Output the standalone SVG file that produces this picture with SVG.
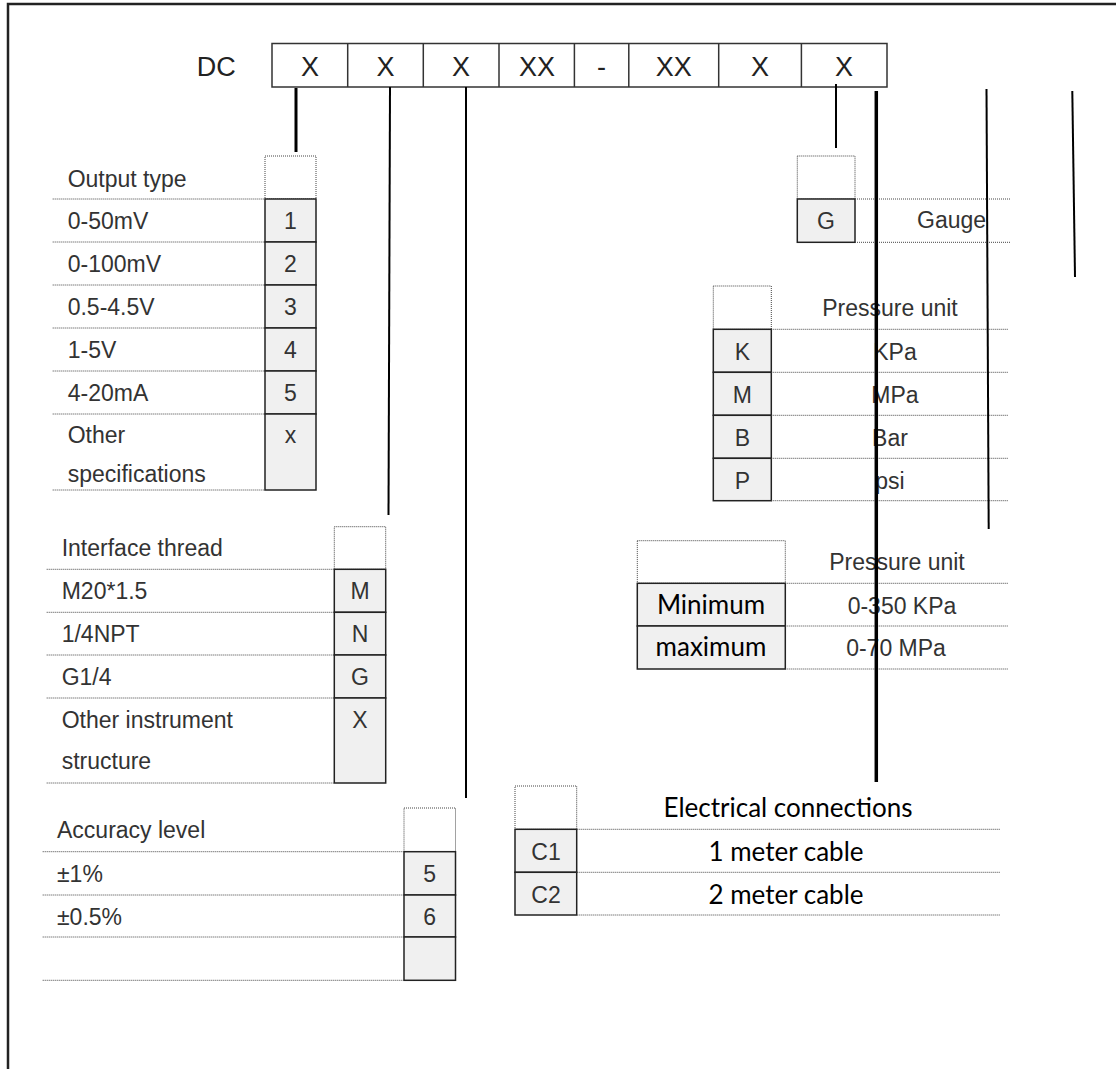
<svg xmlns="http://www.w3.org/2000/svg" width="1116" height="1069" viewBox="0 0 1116 1069">
<style>
.frame{fill:none;stroke:#222;stroke-width:2.5}
.hdr{fill:none;stroke:#333;stroke-width:1.5}
.code{fill:#f0f0f0;stroke:#222;stroke-width:1.5}
.dbox{fill:none;stroke:#444;stroke-width:1;stroke-dasharray:1 1}
.dl{stroke:#444;stroke-width:1;stroke-dasharray:1 1}
.t{font-family:"Liberation Sans",Arial,sans-serif;font-size:23px;fill:#333}
.m{text-anchor:middle}
.h{font-family:"Liberation Sans",Arial,sans-serif;font-size:27px;fill:#222}
.c{font-family:Lato,"Noto Sans",sans-serif;font-size:26px;fill:#000;text-anchor:middle}
.conn{stroke:#000;fill:none}
</style>
<rect width="1116" height="1069" fill="#fff"/>
<path class="frame" d="M8,1069 V4 H1116"/>

<g id="model-code">
<rect class="hdr" x="272" y="43.5" width="615" height="43.5"/>
<path class="hdr" d="M347.7,43.5V87 M423.3,43.5V87 M499,43.5V87 M574.4,43.5V87 M628.8,43.5V87 M718.7,43.5V87 M801.4,43.5V87"/>
<text class="h" x="196.7" y="76">DC</text>
<text class="h m" x="310" y="76">X</text>
<text class="h m" x="385.5" y="76">X</text>
<text class="h m" x="461" y="76">X</text>
<text class="h m" x="537" y="76">XX</text>
<text class="h m" x="601.6" y="76">-</text>
<text class="h m" x="673.8" y="76">XX</text>
<text class="h m" x="760" y="76">X</text>
<text class="h m" x="844" y="76">X</text>
</g>

<g id="output-type">
<rect class="dbox" x="265" y="156" width="51" height="43"/>
<rect class="code" x="265" y="199" width="51" height="43"/>
<rect class="code" x="265" y="242" width="51" height="43"/>
<rect class="code" x="265" y="285" width="51" height="43"/>
<rect class="code" x="265" y="328" width="51" height="43"/>
<rect class="code" x="265" y="371" width="51" height="43"/>
<rect class="code" x="265" y="414" width="51" height="76"/>
<path class="dl" d="M52.7,199H265 M52.7,242H265 M52.7,285H265 M52.7,328H265 M52.7,371H265 M52.7,414H265 M52.7,490H265"/>
<text class="t" x="67.7" y="187">Output type</text>
<text class="t" x="67.7" y="229">0-50mV</text>
<text class="t" x="67.7" y="272">0-100mV</text>
<text class="t" x="67.7" y="315">0.5-4.5V</text>
<text class="t" x="67.7" y="358">1-5V</text>
<text class="t" x="67.7" y="401">4-20mA</text>
<text class="t" x="67.7" y="443">Other</text>
<text class="t" x="67.7" y="482">specifications</text>
<text class="t m" x="290.5" y="229">1</text>
<text class="t m" x="290.5" y="272">2</text>
<text class="t m" x="290.5" y="315">3</text>
<text class="t m" x="290.5" y="358">4</text>
<text class="t m" x="290.5" y="401">5</text>
<text class="t m" x="290.5" y="443">x</text>
</g>

<g id="interface-thread">
<rect class="dbox" x="334.3" y="526.7" width="51.4" height="42.6"/>
<rect class="code" x="334.3" y="569.3" width="51.4" height="43"/>
<rect class="code" x="334.3" y="612.3" width="51.4" height="42.7"/>
<rect class="code" x="334.3" y="655" width="51.4" height="43"/>
<rect class="code" x="334.3" y="698" width="51.4" height="85"/>
<path class="dl" d="M46.7,569.3H334.3 M46.7,612.3H334.3 M46.7,655H334.3 M46.7,698H334.3 M46.7,783H334.3"/>
<text class="t" x="61.7" y="556">Interface thread</text>
<text class="t" x="61.7" y="599">M20*1.5</text>
<text class="t" x="61.7" y="642">1/4NPT</text>
<text class="t" x="61.7" y="685">G1/4</text>
<text class="t" x="61.7" y="728">Other instrument</text>
<text class="t" x="61.7" y="769">structure</text>
<text class="t m" x="360" y="599">M</text>
<text class="t m" x="360" y="642">N</text>
<text class="t m" x="360" y="685">G</text>
<text class="t m" x="360" y="728">X</text>
</g>

<g id="accuracy-level">
<rect class="dbox" x="404" y="808" width="51.5" height="43.7"/>
<rect class="code" x="404" y="851.7" width="51.5" height="43.3"/>
<rect class="code" x="404" y="895" width="51.5" height="42"/>
<rect class="code" x="404" y="937" width="51.5" height="43.3"/>
<path class="dl" d="M42.7,851.7H404 M42.7,895H404 M42.7,937H404 M42.7,980.3H404"/>
<text class="t" x="57" y="838">Accuracy level</text>
<text class="t" x="57" y="881.7">±1%</text>
<text class="t" x="57" y="925">±0.5%</text>
<text class="t m" x="429.7" y="881.7">5</text>
<text class="t m" x="429.7" y="925">6</text>
</g>

<g id="gauge">
<rect class="dbox" x="797.3" y="156" width="57.7" height="43"/>
<rect class="code" x="797.3" y="199" width="57.7" height="43.3"/>
<path class="dl" d="M855,199H1010 M855,242.3H1010"/>
<text class="t m" x="826" y="229">G</text>
<text class="t" x="917" y="228">Gauge</text>
</g>

<g id="pressure-unit">
<rect class="dbox" x="713.3" y="286" width="58" height="43.3"/>
<rect class="code" x="713.3" y="329.3" width="58" height="43"/>
<rect class="code" x="713.3" y="372.3" width="58" height="43"/>
<rect class="code" x="713.3" y="415.3" width="58" height="43"/>
<rect class="code" x="713.3" y="458.3" width="58" height="42.4"/>
<path class="dl" d="M771.3,329.3H1008 M771.3,372.3H1008 M771.3,415.3H1008 M771.3,458.3H1008 M771.3,500.7H1008"/>
<text class="t m" x="890" y="316">Pressure unit</text>
<text class="t m" x="742.3" y="359.5">K</text>
<text class="t m" x="742.3" y="402.5">M</text>
<text class="t m" x="742.3" y="445.5">B</text>
<text class="t m" x="742.3" y="488.5">P</text>
<text class="t m" x="895" y="359.5">KPa</text>
<text class="t m" x="895" y="402.5">MPa</text>
<text class="t m" x="890" y="445.5">Bar</text>
<text class="t m" x="890" y="488.5">psi</text>
</g>

<g id="pressure-range">
<rect class="dbox" x="637.3" y="540.7" width="148" height="42.6"/>
<rect class="code" x="637.3" y="583.3" width="148" height="42.7"/>
<rect class="code" x="637.3" y="626" width="148" height="43"/>
<path class="dl" d="M785.3,583.3H1008 M785.3,626H1008 M785.3,669H1008"/>
<text class="t m" x="897" y="570">Pressure unit</text>
<text class="c" x="711" y="614">Minimum</text>
<text class="c" x="711" y="656">maximum</text>
<text class="t m" x="902" y="614">0-350 KPa</text>
<text class="t m" x="896" y="656">0-70 MPa</text>
</g>

<g id="electrical-connections">
<rect class="dbox" x="515" y="786" width="61.7" height="43.3"/>
<rect class="code" x="515" y="829.3" width="61.7" height="43"/>
<rect class="code" x="515" y="872.3" width="61.7" height="42.7"/>
<path class="dl" d="M576.7,829.3H1000 M576.7,872.3H1000 M576.7,915H1000"/>
<text class="c" x="788" y="817">Electrical connections</text>
<text class="c" x="786" y="861">1 meter cable</text>
<text class="c" x="786" y="904">2 meter cable</text>
<text class="t m" x="546" y="860">C1</text>
<text class="t m" x="546" y="903">C2</text>
</g>

<g id="connectors" class="conn">
<line x1="296" y1="88" x2="296" y2="152" stroke-width="3"/>
<line x1="390" y1="87" x2="388.5" y2="515" stroke-width="2"/>
<line x1="466" y1="87" x2="466" y2="798" stroke-width="2"/>
<line x1="836" y1="84" x2="836" y2="148" stroke-width="2"/>
<line x1="876.3" y1="91" x2="876.3" y2="782" stroke-width="3.5"/>
<line x1="986.5" y1="89" x2="988.7" y2="529" stroke-width="2"/>
<line x1="1072.3" y1="91" x2="1075" y2="277" stroke-width="2"/>
</g>
</svg>
